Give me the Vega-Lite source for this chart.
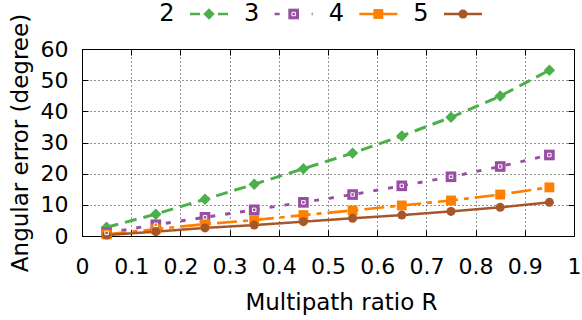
{
  "$schema": "https://vega.github.io/schema/vega-lite/v6.json",
  "padding": {"left": 9, "top": 0, "right": 0, "bottom": 2},
  "bounds": "flush",
  "spacing": 19,
  "config": {"font": "DejaVu Sans", "view": {"stroke": null}},
  "resolve": {"scale": {"strokeDash": "independent"}},
  "datasets": {
    "series": [
      {"s": "2", "R": 0.05, "err": 2.8}, {"s": "2", "R": 0.15, "err": 7.0}, {"s": "2", "R": 0.25, "err": 11.8},
      {"s": "2", "R": 0.35, "err": 16.6}, {"s": "2", "R": 0.45, "err": 21.6}, {"s": "2", "R": 0.55, "err": 26.6},
      {"s": "2", "R": 0.65, "err": 32.1}, {"s": "2", "R": 0.75, "err": 38.1}, {"s": "2", "R": 0.85, "err": 44.9},
      {"s": "2", "R": 0.95, "err": 53.2},
      {"s": "3", "R": 0.05, "err": 1.0}, {"s": "3", "R": 0.15, "err": 3.6}, {"s": "3", "R": 0.25, "err": 6.0},
      {"s": "3", "R": 0.35, "err": 8.4}, {"s": "3", "R": 0.45, "err": 10.8}, {"s": "3", "R": 0.55, "err": 13.3},
      {"s": "3", "R": 0.65, "err": 16.1}, {"s": "3", "R": 0.75, "err": 19.0}, {"s": "3", "R": 0.85, "err": 22.3},
      {"s": "3", "R": 0.95, "err": 26.0},
      {"s": "4", "R": 0.05, "err": 0.5}, {"s": "4", "R": 0.15, "err": 2.2}, {"s": "4", "R": 0.25, "err": 3.8},
      {"s": "4", "R": 0.35, "err": 5.1}, {"s": "4", "R": 0.45, "err": 6.7}, {"s": "4", "R": 0.55, "err": 8.2},
      {"s": "4", "R": 0.65, "err": 9.8}, {"s": "4", "R": 0.75, "err": 11.4}, {"s": "4", "R": 0.85, "err": 13.3},
      {"s": "4", "R": 0.95, "err": 15.6},
      {"s": "5", "R": 0.05, "err": 0.3}, {"s": "5", "R": 0.15, "err": 1.4}, {"s": "5", "R": 0.25, "err": 2.6},
      {"s": "5", "R": 0.35, "err": 3.5}, {"s": "5", "R": 0.45, "err": 4.6}, {"s": "5", "R": 0.55, "err": 5.7},
      {"s": "5", "R": 0.65, "err": 6.7}, {"s": "5", "R": 0.75, "err": 7.9}, {"s": "5", "R": 0.85, "err": 9.2},
      {"s": "5", "R": 0.95, "err": 10.8}
    ],
    "legend": [{"s": "2"}, {"s": "3"}, {"s": "4"}, {"s": "5"}]
  },
  "vconcat": [
    {
      "width": 492,
      "height": 30,
      "data": {"name": "legend"},
      "encoding": {
        "x": {"field": "s", "type": "nominal", "scale": {"type": "point", "padding": 0, "domain": ["2", "3", "4", "5"], "range": [85, 339]}, "axis": null}
      },
      "layer": [
        {
          "mark": {"type": "text", "fontSize": 24, "align": "center", "baseline": "middle", "color": "black", "dy": -1},
          "encoding": {"text": {"field": "s"}}
        },
        {
          "mark": {"type": "point", "shape": "M-1,0H1", "filled": false, "size": 1444, "strokeWidth": 2.5, "xOffset": 42, "yOffset": -1, "opacity": 1},
          "encoding": {
            "color": {"field": "s", "type": "nominal", "scale": {"domain": ["2", "3", "4", "5"], "range": ["#4daf4a", "#984ea3", "#ff7f00", "#a65628"]}, "legend": null},
            "strokeDash": {"field": "s", "type": "nominal", "scale": {"domain": ["2", "3", "4", "5"], "range": [[10, 18], [5, 32], [1, 0], [1, 0]]}, "legend": null}
          }
        },
        {
          "mark": {"type": "point", "filled": true, "xOffset": 42, "yOffset": -1, "opacity": 1},
          "encoding": {
            "color": {"field": "s", "type": "nominal", "scale": {"domain": ["2", "3", "4", "5"], "range": ["#4daf4a", "#984ea3", "#ff7f00", "#a65628"]}, "legend": null},
            "shape": {"field": "s", "type": "nominal", "scale": {"domain": ["2", "3", "4", "5"], "range": ["diamond", "square", "square", "circle"]}, "legend": null},
            "size": {"field": "s", "type": "nominal", "scale": {"domain": ["2", "3", "4", "5"], "range": [130, 81, 49, 45]}, "legend": null}
          }
        },
        {
          "transform": [{"filter": "datum.s == '3'"}],
          "mark": {"type": "point", "shape": "square", "filled": false, "color": "white", "strokeWidth": 1, "size": 12, "opacity": 1, "xOffset": 42, "yOffset": -1}
        }
      ]
    },
    {
      "width": 492,
      "height": 187,
      "data": {"name": "series"},
      "layer": [
        {
          "mark": {"type": "line"},
          "encoding": {
            "x": {"field": "R", "type": "quantitative", "scale": {"domain": [0, 1]},
              "axis": {"orient": "bottom", "values": [0, 0.1, 0.2, 0.3, 0.4, 0.5, 0.6, 0.7, 0.8, 0.9, 1], "format": "~g",
                "title": "Multipath ratio R", "labelFontSize": 22, "titleFontSize": 23, "titleFontWeight": "normal",
                "labelColor": "black", "titleColor": "black", "labelFlush": false, "labelOverlap": false,
                "domainColor": "black", "tickColor": "black", "tickSize": -6, "labelPadding": 26, "titlePadding": 14, "titleX": 259,
                "grid": true, "gridColor": "black", "gridDash": [1, 3], "gridOpacity": 0.85}},
            "y": {"field": "err", "type": "quantitative", "scale": {"domain": [0, 60]},
              "axis": {"orient": "left", "values": [0, 10, 20, 30, 40, 50, 60], "format": "d",
                "title": "Angular error (degree)", "labelFontSize": 22, "titleFontSize": 23, "titleFontWeight": "normal",
                "labelColor": "black", "titleColor": "black", "labelFlush": false, "labelOverlap": false,
                "domainColor": "black", "tickColor": "black", "tickSize": -6, "labelPadding": 20, "titlePadding": 8,
                "grid": true, "gridColor": "black", "gridDash": [1, 3], "gridOpacity": 0.85}},
            "color": {"field": "s", "type": "nominal", "scale": {"domain": ["2", "3", "4", "5"], "range": ["#4daf4a", "#984ea3", "#ff7f00", "#a65628"]}, "legend": null},
            "strokeDash": {"field": "s", "type": "nominal", "scale": {"domain": ["2", "3", "4", "5"], "range": [[12, 7], [5, 10], [20, 6, 5, 6], [1, 0]]}, "legend": null},
            "strokeWidth": {"field": "s", "type": "nominal", "scale": {"domain": ["2", "3", "4", "5"], "range": [3, 2.5, 3, 2.5]}, "legend": null}
          }
        },
        {
          "mark": {"type": "point", "filled": true, "opacity": 1},
          "encoding": {
            "x": {"field": "R", "type": "quantitative", "axis": null},
            "y": {"field": "err", "type": "quantitative", "axis": null},
            "color": {"field": "s", "type": "nominal", "scale": {"domain": ["2", "3", "4", "5"], "range": ["#4daf4a", "#984ea3", "#ff7f00", "#a65628"]}, "legend": null},
            "shape": {"field": "s", "type": "nominal", "scale": {"domain": ["2", "3", "4", "5"], "range": ["diamond", "square", "square", "circle"]}, "legend": null},
            "size": {"field": "s", "type": "nominal", "scale": {"domain": ["2", "3", "4", "5"], "range": [130, 81, 49, 45]}, "legend": null}
          }
        },
        {
          "transform": [{"filter": "datum.s == '3'"}],
          "mark": {"type": "point", "shape": "square", "filled": false, "color": "white", "strokeWidth": 1, "size": 12, "opacity": 1},
          "encoding": {
            "x": {"field": "R", "type": "quantitative", "axis": null},
            "y": {"field": "err", "type": "quantitative", "axis": null}
          }
        },
        {
          "mark": {"type": "point", "opacity": 0},
          "encoding": {
            "x": {"field": "R", "type": "quantitative",
              "axis": {"orient": "top", "values": [0, 0.1, 0.2, 0.3, 0.4, 0.5, 0.6, 0.7, 0.8, 0.9, 1], "labels": false, "title": null, "grid": false,
                "domainColor": "black", "tickColor": "black", "tickSize": -6}},
            "y": {"field": "err", "type": "quantitative",
              "axis": {"orient": "right", "values": [0, 10, 20, 30, 40, 50, 60], "labels": false, "title": null, "grid": false,
                "domainColor": "black", "tickColor": "black", "tickSize": -6}}
          }
        }
      ],
      "resolve": {"axis": {"x": "independent", "y": "independent"}}
    }
  ]
}
